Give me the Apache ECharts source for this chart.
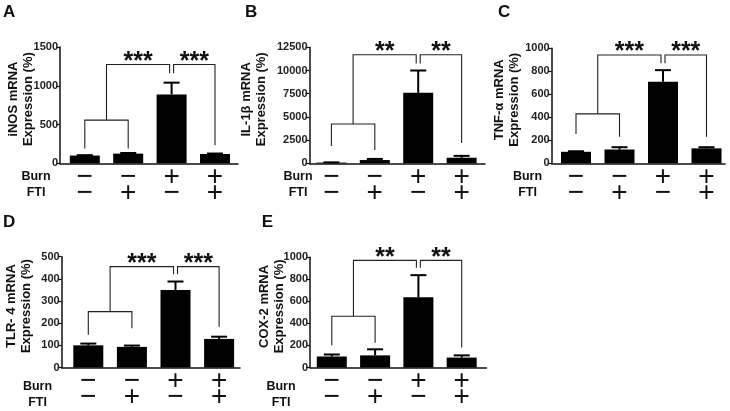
<!DOCTYPE html>
<html><head><meta charset="utf-8">
<script src="https://cdn.jsdelivr.net/npm/echarts@6/dist/echarts.min.js"></script>
<style>html,body{margin:0;padding:0;background:#fff}#c{width:730px;height:411px}</style>
</head><body><div id="c"></div>
<script>
// ---------- data ----------
const burnSigns = ['−', '−', '+', '+'];
const ftiSigns  = ['−', '+', '−', '+'];
const rowTitles = ['Burn', 'FTI'];
const panelLetters = ['A', 'B', 'C', 'D', 'E'];
const yNames = ['iNOS mRNA\nExpression (%)', 'IL-1β mRNA\nExpression (%)', 'TNF-α mRNA\nExpression (%)', 'TLR- 4 mRNA\nExpression (%)', 'COX-2 mRNA\nExpression (%)'];
const yMax  = [1500, 12500, 1000, 500, 1000];
const yStep = [500, 2500, 200, 100, 200];

const meanA = [100, 125, 888, 120],  semA = [5, 8, 152, 6];
const meanB = [80, 350, 7600, 600],  semB = [20, 120, 2400, 200];
const meanC = [100, 120, 710, 130],  semC = [5, 20, 100, 10];
const meanD = [100, 93, 350, 129],   semD = [8, 6, 38, 10];
const meanE = [100, 110, 638, 90],   semE = [18, 55, 200, 20];

// bracket levels: [pair height, leg bar1, leg bar2, top height, leg bar3, leg bar4]
const bracketA = [557, 190, 190, 1274, 1160, 233];
const bracketB = [4240, 1860, 1430, 11700, 10750, 2200];
const bracketC = [430, 255, 230, 942, 870, 231];
const bracketD = [252, 148, 177, 455, 421, 184];
const bracketE = [465, 203, 225, 972, 905, 182];
const starsAll = ['***', '**', '***', '***', '**'];

const means = [meanA, meanB, meanC, meanD, meanE];
const sems = [semA, semB, semC, semD, semE];
const brackets = [bracketA, bracketB, bracketC, bracketD, bracketE];

// ---------- layout ----------
const FONT = '"Liberation Sans", Arial, sans-serif';
const L = [
  {left: 60,    top: 47,    right: 238,   bottom: 163.3, c0: 84.8,  s: 43.4, letter: [3, 12.5],     head: 36,    gap: 24.5},
  {left: 309.5, top: 47.3,  right: 485,   bottom: 163.3, c0: 331.4, s: 43.4, letter: [245, 12.5],   head: 298,   gap: 41},
  {left: 551.7, top: 48.3,  right: 725,   bottom: 163.3, c0: 576,   s: 43.5, letter: [498, 12.5],   head: 527.5, gap: 30},
  {left: 61.7,  top: 256.7, right: 240,   bottom: 372.7, c0: 88.3,  s: 43.6, letter: [3, 222.5],    head: 37.5,  gap: 28},
  {left: 310,   top: 257.3, right: 486.5, bottom: 372.7, c0: 331.8, s: 43.3, letter: [261.7, 223],  head: 281,   gap: 23}
];

const grids = [], xAxes = [], yAxes = [], series = [], graphics = [];
L.forEach((g, k) => {
  grids.push({left: g.left, top: g.top, width: g.right - g.left, height: g.bottom - g.top, containLabel: false});
  xAxes.push({
    type: 'value', gridIndex: k,
    min: (g.left - g.c0) / g.s, max: (g.right - g.c0) / g.s,
    splitLine: {show: false},
    axisLine: {show: true, onZero: false, lineStyle: {color: '#111', width: 1.5}},
    axisTick: {show: false},
    axisLabel: {
      show: true, customValues: [0, 1, 2, 3], margin: 5.5,
      formatter: v => { const i = Math.round(v); return '{s|' + burnSigns[i] + '}\n{s|' + ftiSigns[i] + '}'; },
      rich: {s: {fontSize: 28, lineHeight: 16, fontFamily: FONT, color: '#111'}}
    }
  });
  yAxes.push({
    type: 'value', gridIndex: k, min: 0, max: yMax[k], interval: yStep[k],
    name: yNames[k], nameLocation: 'middle', nameGap: g.gap, nameMoveOverlap: false,
    nameTextStyle: {fontWeight: 'bold', fontSize: 13, lineHeight: 15, fontFamily: FONT, color: '#111', padding: [0, 0, 0, 12]},
    splitLine: {show: false},
    axisLine: {show: true, onZero: false, lineStyle: {color: '#111', width: 1.5}},
    axisTick: {show: true, length: 4, lineStyle: {color: '#111', width: 1.2}},
    axisLabel: {fontWeight: 'bold', fontSize: 11, fontFamily: FONT, color: '#222', margin: 2, formatter: v => String(v)}
  });
  const m = means[k], e = sems[k], b = brackets[k], st = starsAll[k];
  series.push({
    type: 'bar', xAxisIndex: k, yAxisIndex: k, barWidth: 30,
    itemStyle: {color: '#000'},
    data: m.map((v, i) => [i, v]), z: 2
  });
  series.push({
    type: 'custom', xAxisIndex: k, yAxisIndex: k, z: 3, clip: false,
    data: m.map((v, i) => [i, v, v + e[i]]),
    renderItem: (params, api) => {
      const x = api.value(0);
      const p0 = api.coord([x, api.value(1)]);
      const p1 = api.coord([x, api.value(2)]);
      return {type: 'group', children: [
        {type: 'line', shape: {x1: p0[0], y1: p0[1], x2: p1[0], y2: p1[1]}, style: {stroke: '#000', lineWidth: 2}},
        {type: 'line', shape: {x1: p1[0] - 8, y1: p1[1], x2: p1[0] + 8, y2: p1[1]}, style: {stroke: '#000', lineWidth: 2}}
      ]};
    }
  });
  series.push({
    type: 'custom', xAxisIndex: k, yAxisIndex: k, z: 4, clip: false,
    data: [[0, b[3]]],
    renderItem: (params, api) => {
      const c = (x, y) => api.coord([x, y]);
      const ln = {stroke: '#222', lineWidth: 1.1, fill: 'none'};
      const a0 = c(0, b[1]), a1 = c(0, b[0]), a2 = c(1, b[0]), a3 = c(1, b[2]);
      const mid0 = c(0.5, b[0]), mid1 = c(0.5, b[3]);
      const t3 = c(2, b[3]), l3 = c(2, b[4]);
      const t4 = c(3, b[3]), l4 = c(3, b[5]);
      const gp = 2;
      const font = 'bold 25px ' + FONT;
      return {type: 'group', children: [
        {type: 'polyline', shape: {points: [a0, a1, a2, a3]}, style: ln},
        {type: 'polyline', shape: {points: [mid0, mid1, [t3[0] - gp, t3[1]], [l3[0] - gp, l3[1]]]}, style: ln},
        {type: 'polyline', shape: {points: [[l3[0] + gp, l3[1]], [t3[0] + gp, t3[1]], t4, l4]}, style: ln},
        {type: 'text', style: {text: st, x: (mid1[0] + t3[0] - gp) / 2, y: mid1[1] - 2.5, align: 'center', verticalAlign: 'middle', font: font, fill: '#111'}},
        {type: 'text', style: {text: st, x: (t3[0] + gp + t4[0]) / 2, y: mid1[1] - 2.5, align: 'center', verticalAlign: 'middle', font: font, fill: '#111'}}
      ]};
    }
  });
  graphics.push({type: 'text', left: g.letter[0], top: g.letter[1] - 9, style: {text: panelLetters[k], font: 'bold 17px ' + FONT, fill: '#111'}});
  rowTitles.forEach((t, r) => {
    graphics.push({type: 'text', x: g.head, y: g.bottom + 13.5 + r * 16, style: {text: t, font: 'bold 12.5px ' + FONT, fill: '#111', align: 'center', verticalAlign: 'middle'}});
  });
});

const chart = echarts.init(document.getElementById('c'), null, {renderer: 'canvas'});
chart.setOption({
  animation: false,
  backgroundColor: '#fff',
  grid: grids, xAxis: xAxes, yAxis: yAxes, series: series, graphic: graphics
});
</script>
</body></html>
